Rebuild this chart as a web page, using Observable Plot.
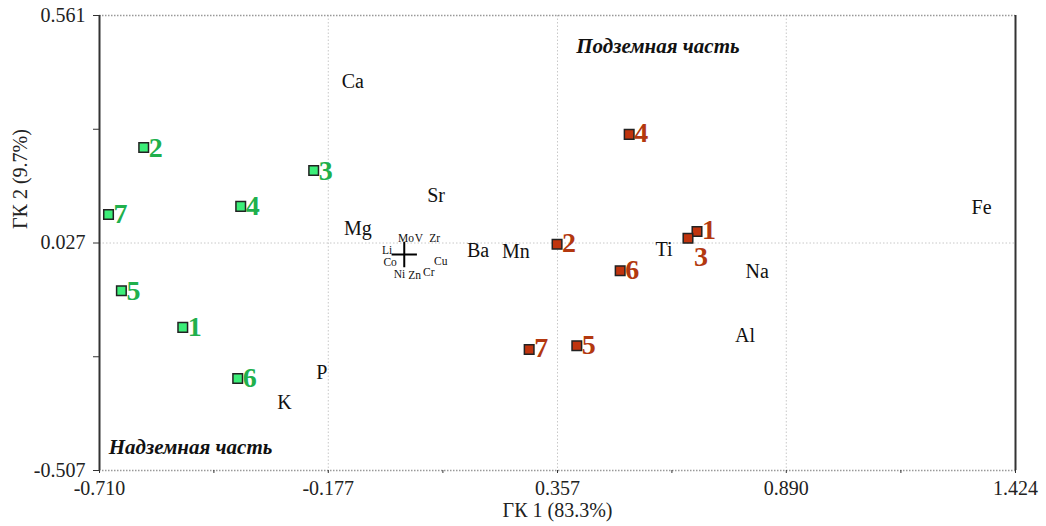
<!DOCTYPE html>
<html>
<head>
<meta charset="utf-8">
<script src="https://cdn.jsdelivr.net/npm/d3@7"></script>
<script src="https://cdn.jsdelivr.net/npm/@observablehq/plot@0.6"></script>
<style>
  html, body { margin: 0; padding: 0; background: #ffffff; }
  #chart { width: 1046px; height: 526px; }
</style>
</head>
<body>
<div id="chart"></div>
<script>
// ---- Data ----
const sampleIds = ["1", "2", "3", "4", "5", "6", "7"];

// Надземная часть (green)
const aboveX = [-0.516, -0.607, -0.211, -0.381, -0.659, -0.388, -0.689];
const aboveY = [-0.171, 0.251, 0.197, 0.113, -0.085, -0.291, 0.094];

// Подземная часть (red)
const belowX = [0.682, 0.356, 0.661, 0.524, 0.402, 0.503, 0.291];
const belowY = [0.054, 0.024, 0.038, 0.282, -0.214, -0.038, -0.223];

// Element loadings (large labels)
const elemNames = ["Ca", "Sr", "Mg", "Ba", "Mn", "Ti", "Na", "Al", "Fe", "P", "K"];
const elemX = [-0.120, 0.074, -0.108, 0.172, 0.260, 0.605, 0.822, 0.794, 1.345, -0.192, -0.279];
const elemY = [0.406, 0.138, 0.061, 0.009, 0.007, 0.012, -0.040, -0.190, 0.110, -0.277, -0.347];

// Element loadings (small labels near the origin)
const smallNames = ["Mo", "V", "Zr", "Li", "Co", "Ni", "Zn", "Cr", "Cu"];
const smallX = [0.004, 0.034, 0.071, -0.040, -0.033, -0.011, 0.024, 0.057, 0.085];
const smallY = [0.038, 0.038, 0.038, 0.010, -0.019, -0.046, -0.048, -0.042, -0.016];

// Origin marker
const originX = [0];
const originY = [0];

// Axes
const xDomain = [-0.710, 1.424];
const yDomain = [-0.507, 0.561];
const xMajorTicks = [-0.710, -0.177, 0.357, 0.890, 1.424];
const xMinorTicks = [-0.4435, 0.090, 0.6235, 1.157];
const yMajorTicks = [-0.507, 0.027, 0.561];
const yMinorTicks = [-0.240, 0.294];
const xGrid = [-0.177, 0.357, 0.890];
const yGrid = [0.027];

const xTitle = "ГК 1 (83.3%)";
const yTitle = "ГК 2 (9.7%)";
const annotNames = ["Подземная часть", "Надземная часть"];
const annotX = [0.591, -0.498];
const annotY = [0.488, -0.453];

// ---- Build tables ----
const above = sampleIds.map((id, i) => ({id, x: aboveX[i], y: aboveY[i]}));
const below = sampleIds.map((id, i) => ({id, x: belowX[i], y: belowY[i]}));
const elems = elemNames.map((n, i) => ({n, x: elemX[i], y: elemY[i]}));
const smalls = smallNames.map((n, i) => ({n, x: smallX[i], y: smallY[i]}));
const origin = originX.map((x, i) => ({x, y: originY[i]}));
const annots = annotNames.map((n, i) => ({n, x: annotX[i], y: annotY[i]}));

const greenFill = "#3cee78";
const greenText = "#20b04c";
const redFill = "#c0340e";
const redText = "#b3380f";
const fmt = d => xMajorTicks.includes(d) || yMajorTicks.includes(d) ? d.toFixed(3) : "";

const chart = Plot.plot({
  width: 1046,
  height: 526,
  marginLeft: 99,
  marginRight: 31,
  marginTop: 15,
  marginBottom: 56,
  style: {fontFamily: "'Liberation Serif', 'Times New Roman', serif", background: "#ffffff", color: "#222"},
  x: {domain: xDomain},
  y: {domain: yDomain},
  marks: [
    // grid
    Plot.ruleX(xGrid, {stroke: "#c8c8c8", strokeDasharray: "1.5,2", strokeWidth: 1}),
    Plot.ruleY(yGrid, {stroke: "#c8c8c8", strokeDasharray: "1.5,2", strokeWidth: 1}),
    // frame
    Plot.ruleY([yDomain[0], yDomain[1]], {stroke: "#999", strokeDasharray: "1.5,1.5", strokeWidth: 1.5}),
    Plot.ruleX([xDomain[0], xDomain[1]], {stroke: "#333", strokeWidth: 2}),
    // axes
    Plot.axisX([...xMajorTicks, ...xMinorTicks], {
      tickSize: 3, tickPadding: 7, tickFormat: fmt, fontSize: 20, label: null, stroke: "#333"
    }),
    Plot.axisY([...yMajorTicks, ...yMinorTicks], {
      tickSize: 6, tickPadding: 8, tickFormat: fmt, fontSize: 20, label: null, stroke: "#333"
    }),
    // axis titles
    Plot.text([xTitle], {frameAnchor: "bottom", text: d => d, dy: 46, fontSize: 20, fill: "#222"}),
    Plot.text([yTitle], {frameAnchor: "left", text: d => d, rotate: -90, dx: -79, dy: -14, fontSize: 20, fill: "#222"}),
    // annotations
    Plot.text(annots, {x: "x", y: "y", text: "n", fontSize: 21, fontWeight: "bold", fontStyle: "italic", fill: "#111"}),
    // element labels
    Plot.text(elems, {x: "x", y: "y", text: "n", fontSize: 20, fill: "#111"}),
    Plot.text(smalls, {x: "x", y: "y", text: "n", fontSize: 11.5, fill: "#111"}),
    Plot.dot(origin, {x: "x", y: "y", symbol: "plus", r: 8.2, stroke: "#000", strokeWidth: 2}),
    // samples
    Plot.dot(above, {x: "x", y: "y", symbol: "square", r: 5.4, fill: greenFill, stroke: "#222", strokeWidth: 1.5}),
    Plot.dot(below, {x: "x", y: "y", symbol: "square", r: 5.4, fill: redFill, stroke: "#222", strokeWidth: 1.5}),
    Plot.text(above, {x: "x", y: "y", text: "id", dx: 5, dy: 0, textAnchor: "start", fontSize: 28, fontWeight: "bold", fill: greenText}),
    Plot.text(below.filter(d => d.id !== "3"), {x: "x", y: "y", text: "id", dx: 5, dy: -1, textAnchor: "start", fontSize: 28, fontWeight: "bold", fill: redText}),
    Plot.text(below.filter(d => d.id === "3"), {x: "x", y: "y", text: "id", dx: 6, dy: 19, textAnchor: "start", fontSize: 28, fontWeight: "bold", fill: redText})
  ]
});

document.getElementById("chart").appendChild(chart);
</script>
</body>
</html>
